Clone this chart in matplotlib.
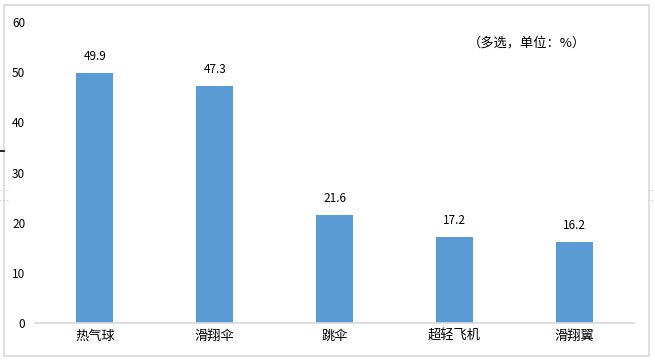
import matplotlib
matplotlib.use("Agg")
import matplotlib.pyplot as plt
from matplotlib.lines import Line2D
from matplotlib.patches import Rectangle

plt.rcParams['font.family'] = ['Noto Sans CJK SC', 'DejaVu Sans']

categories = ["热气球", "滑翔伞", "跳伞", "超轻飞机", "滑翔翼"]
values = [49.9, 47.3, 21.6, 17.2, 16.2]
yticks = [0, 10, 20, 30, 40, 50, 60]
note = "（多选，单位：%）"

W, H = 655, 360
fig = plt.figure(figsize=(W / 100, H / 100), dpi=100)
ax = fig.add_axes([35 / W, (H - 323) / H, (634 - 35) / W, (323 - 22) / H])

x = list(range(len(categories)))
bars = ax.bar(x, values, width=0.31, color="#5B9BD5", zorder=2)
for xi, v in zip(x, values):
    ax.annotate(f"{v}", (xi, v), xytext=(0, 7), textcoords="offset points",
                ha="center", va="bottom", fontsize=8.5, color="#000000")

ax.set_xlim(-0.5, len(categories) - 0.5)
ax.set_ylim(0, 60)
ax.set_yticks(yticks)
ax.set_yticklabels([str(t) for t in yticks], fontsize=8.5)
ax.set_xticks(x)
ax.set_xticklabels(categories, fontsize=9.5)
ax.tick_params(axis="both", length=0)
ax.tick_params(axis="x", pad=5)
ax.tick_params(axis="y", pad=7)
for s in ["top", "right", "left"]:
    ax.spines[s].set_visible(False)
ax.spines["bottom"].set_color("#D9D9D9")
ax.spines["bottom"].set_linewidth(1.2)

fig.text(527 / W, 1 - 43 / H, note, ha="center", va="center", fontsize=9.5)

# chart border
fig.patches.append(Rectangle((4 / W, 4 / H), (649 - 4) / W, (355 - 4) / H,
                             transform=fig.transFigure, fill=False,
                             edgecolor="#D9D9D9", linewidth=1.2))
# small artifacts at edges
for yy in (190, 200):
    fig.lines.append(Line2D([0, 10 / W], [1 - yy / H] * 2, transform=fig.transFigure,
                            color="#C8C8C8", linewidth=0.8, linestyle=(0, (1, 2))))
    fig.lines.append(Line2D([648 / W, 1], [1 - yy / H] * 2, transform=fig.transFigure,
                            color="#C8C8C8", linewidth=0.8, linestyle=(0, (1, 2))))
fig.lines.append(Line2D([0, 4 / W], [1 - 151 / H] * 2, transform=fig.transFigure,
                        color="#000000", linewidth=1.2))

fig.savefig("out.png", dpi=100)
